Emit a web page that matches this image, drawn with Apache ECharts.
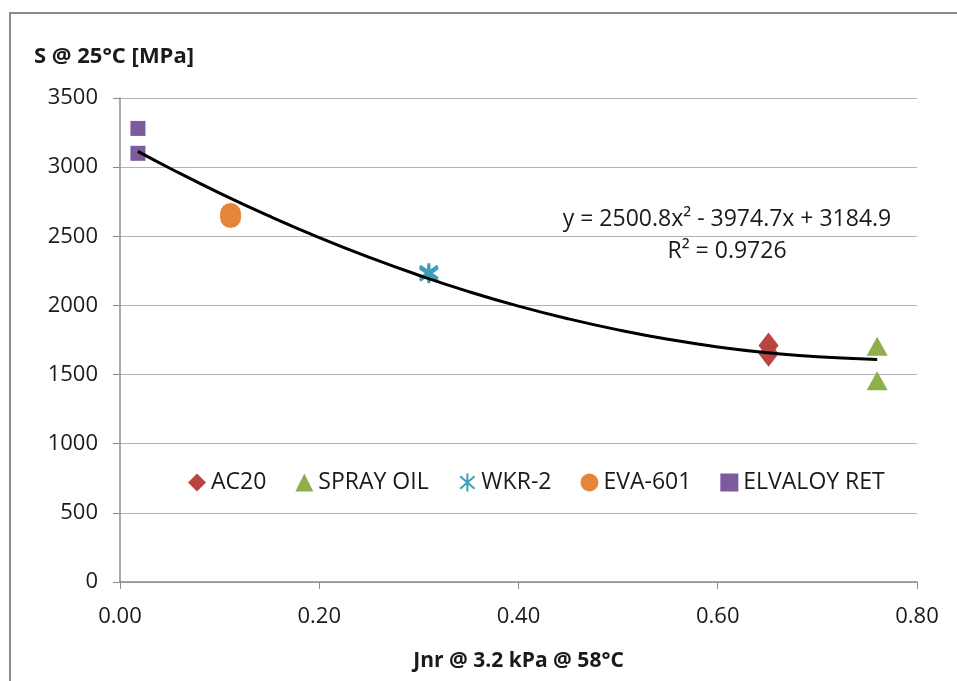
<!DOCTYPE html>
<html>
<head>
<meta charset="utf-8">
<script src="https://cdn.jsdelivr.net/npm/echarts@6/dist/echarts.min.js"></script>
<style>
  html, body { margin: 0; padding: 0; background: #fff; }
  #chart { width: 957px; height: 681px; }
</style>
</head>
<body>
<div id="chart"></div>
<script>
// measured points, [Jnr, S]
const ac20 = [[0.651, 1710], [0.651, 1650]]
const sprayOil = [[0.760, 1705], [0.760, 1455]]
const wkr2 = [[0.310, 2240], [0.310, 2225]]
const eva601 = [[0.111, 2665], [0.111, 2635]]
const elvaloy = [[0.018, 3280], [0.018, 3100]]

// polynomial trendline as drawn
const trendX = [0.018, 0.05, 0.10, 0.15, 0.20, 0.25, 0.30, 0.35, 0.40, 0.45, 0.50, 0.55, 0.60, 0.65, 0.70, 0.76]
const trendY = [3114, 2992, 2812, 2645, 2490, 2348, 2218, 2100, 1995, 1903, 1823, 1755, 1700, 1658, 1628, 1609]

const xTicks = [0, 0.2, 0.4, 0.6, 0.8]
const yTicks = [0, 500, 1000, 1500, 2000, 2500, 3000, 3500]

const font = '"Open Sans", Lato, sans-serif'
const fs = 22
const txt = '#1a1a1a'

const chart = echarts.init(document.getElementById('chart'), null, { renderer: 'canvas' })

function pts(list, name, symbol, size, color, extra) {
  return Object.assign({
    name: name,
    type: 'scatter',
    symbol: symbol,
    symbolSize: size,
    itemStyle: { color: color, opacity: 1 },
    data: list,
    z: 3
  }, extra || {})
}

chart.setOption({
  animation: false,
  backgroundColor: '#fff',
  textStyle: { fontFamily: font },
  title: {
    text: 'S @ 25°C [MPa]',
    left: 29, top: 41,
    textStyle: { fontFamily: font, fontSize: 22, fontWeight: 'bold', color: txt }
  },
  grid: { left: 120, right: 40, top: 98, bottom: 99 },
  legend: {
    left: 183, top: 466,
    itemGap: 29,
    itemWidth: 18, itemHeight: 18,
    textStyle: { fontFamily: font, fontSize: 23, color: txt },
    data: ['AC20', 'SPRAY OIL', 'WKR-2', 'EVA-601', 'ELVALOY RET']
  },
  xAxis: {
    type: 'value',
    min: xTicks[0], max: xTicks[xTicks.length - 1], interval: 0.2,
    name: 'Jnr @ 3.2 kPa @ 58°C',
    nameLocation: 'middle', nameGap: 69,
    nameTextStyle: { fontFamily: font, fontSize: 21, fontWeight: 'bold', color: txt },
    axisLine: { lineStyle: { color: '#8c8c8c', width: 1.5 } },
    axisTick: { show: true, length: 7, lineStyle: { color: '#8c8c8c' } },
    axisLabel: { fontSize: fs, color: txt, margin: 24, formatter: v => v.toFixed(2) },
    splitLine: { show: false }
  },
  yAxis: {
    type: 'value',
    min: yTicks[0], max: yTicks[yTicks.length - 1], interval: 500,
    axisLine: { show: true, lineStyle: { color: '#8c8c8c', width: 1.5 } },
    axisTick: { show: true, length: 7, lineStyle: { color: '#8c8c8c' } },
    axisLabel: { fontSize: fs, color: txt, margin: 22, formatter: v => String(v) },
    splitLine: { lineStyle: { color: '#b3b3b3', width: 1.2 } }
  },
  graphic: [
    {
      type: 'rect', silent: true, z: 100,
      shape: { x: 10, y: 13, width: 1000, height: 700 },
      style: { fill: 'none', stroke: '#8a8a8a', lineWidth: 2 }
    },
    {
      type: 'text', x: 727, y: 219, z: 100,
      style: { text: 'y = 2500.8x² - 3974.7x + 3184.9', font: '23px ' + font, fill: txt, align: 'center', verticalAlign: 'middle' }
    },
    {
      type: 'text', x: 727, y: 251, z: 100,
      style: { text: 'R² = 0.9726', font: '23px ' + font, fill: txt, align: 'center', verticalAlign: 'middle' }
    }
  ],
  series: [
    {
      name: 'trend',
      type: 'line',
      smooth: true,
      showSymbol: false,
      lineStyle: { color: '#000', width: 3 },
      data: trendX.map((x, i) => [x, trendY[i]]),
      z: 4
    },
    pts(ac20, 'AC20', 'diamond', [20, 26], '#b94441'),
    pts(sprayOil, 'SPRAY OIL', 'triangle', [21, 19], '#8eaf4a'),
    pts(wkr2, 'WKR-2', 'path://M5,0L5,10M1,1.5L9,8.5M9,1.5L1,8.5', 18, '#3e9fbb', {
      itemStyle: { color: 'none', borderColor: '#3e9fbb', borderWidth: 3, opacity: 1 }
    }),
    pts(eva601, 'EVA-601', 'circle', 21, '#e5853a'),
    pts(elvaloy, 'ELVALOY RET', 'rect', 15, '#7b5b9c')
  ]
})
</script>
</body>
</html>
